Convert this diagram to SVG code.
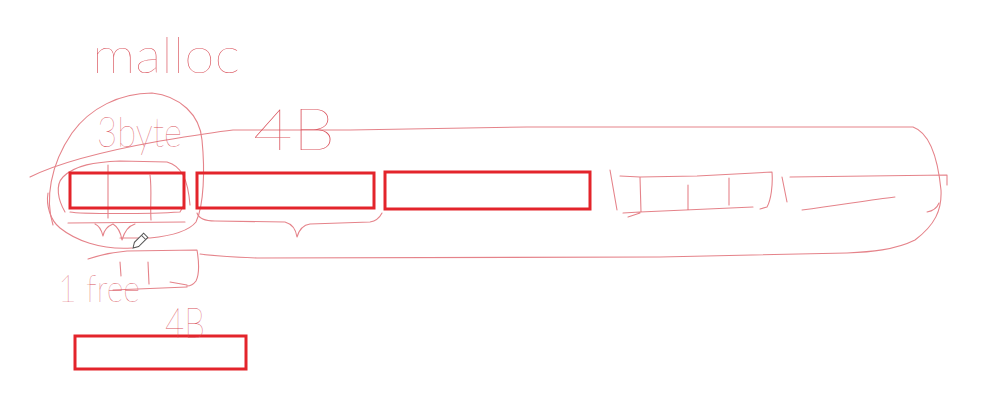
<svg xmlns="http://www.w3.org/2000/svg" width="996" height="400" viewBox="0 0 996 400">
<style>
.bx{fill:none;stroke:#e3242b;stroke-width:3}
.sk{fill:none;stroke:#e5838a;stroke-width:1.1;stroke-linecap:round;stroke-linejoin:round}
.hw{font-family:Lato,"DejaVu Sans",sans-serif;font-weight:100;fill:#d9515b}
</style>
<rect width="996" height="400" fill="#ffffff"/>
<g id="connectors">
<path class="sk" d="M30,177 C60,162 110,150 160,141 C190,136 215,132 233,130 L350,130 L527,127 L913,127 C930,133 938,160 941,190 C942,210 935,225 915,240 C895,250 870,252 847,253 L660,257 L257,258 C230,257 215,256 200,254"/>
<path class="sk" d="M53,225 C45,200 50,165 72,133 C90,108 120,93 152,93 C180,96 200,115 202,140 C205,170 204,205 196,222 C188,232 170,236 150,238 L120,238"/>
<path class="sk" d="M48,193 C46,205 50,220 60,228 C75,240 100,250 132,248"/>
<path class="sk" d="M65,212 C58,200 55,185 63,177 C75,165 95,162 120,161 L167,162 C182,166 188,180 190,205"/>
<path class="sk" d="M68,223 L185,222 M70,212 C80,214 150,214 180,212 L184,205 M95,224 C100,226 102,232 103,236 C104,230 108,226 113,224 C118,227 121,234 122,240 C124,233 128,226 135,224"/>
<path class="sk" d="M108,165 L108,218 M150,175 C152,190 150,205 151,220"/>
<path class="sk" d="M88,259 C100,255 115,252 127,251 L197,250 C199,262 199,275 196,281 C193,285 190,286 187,286 M170,282 L187,285 M113,290 L187,287 M120,262 L121,276 M148,262 L149,284"/>
<path class="sk" d="M197,213 C199,219 205,221 215,221 L285,222 C292,224 296,230 297,237 C299,230 303,225 310,224 L370,222 C376,221 380,217 382,213"/>
<path class="sk" d="M610,170 L617,210 M620,176 L640,177 L697,176 L772,172 C773,185 771,200 767,207 L760,209 M623,213 L640,212 L753,207 M628,217 L640,213 M640,177 L641,212 M688,185 L688,210 M729,178 L729,205 M782,177 L787,202 M790,177 L947,175 L947,185 M802,210 C840,205 870,200 895,197 M927,212 C933,211 937,208 939,203"/>
</g>
<g id="box-3byte"><rect class="bx" x="70" y="173" width="114" height="35"/></g>
<g id="box-4B-1"><rect class="bx" x="197" y="173" width="177" height="35"/></g>
<g id="box-4B-2"><rect class="bx" x="385" y="172" width="205" height="37"/></g>
<g id="box-4B-free"><rect class="bx" x="75" y="336" width="171" height="33"/></g>
<g id="labels">
<text class="hw" x="92" y="73" font-size="50" textLength="148" lengthAdjust="spacingAndGlyphs">malloc</text>
<text class="hw" x="97" y="147" font-size="42" textLength="85" lengthAdjust="spacingAndGlyphs">3byte</text>
<text class="hw" x="253" y="150" font-size="58" textLength="82" lengthAdjust="spacingAndGlyphs">4B</text>
<text class="hw" x="58" y="302" font-size="38" textLength="82" lengthAdjust="spacingAndGlyphs">1 free</text>
<text class="hw" x="165" y="338" font-size="42" textLength="40" lengthAdjust="spacingAndGlyphs">4B</text>
</g>
<g id="cursor" transform="translate(133,248) rotate(-45)">
<path d="M0,0 L5,-3 L18,-3 L18,3 L5,3 Z" fill="#ffffff" stroke="#555555" stroke-width="1"/>
<path d="M15,-3 L15,3" stroke="#555555" stroke-width="1"/>
</g>
</svg>
